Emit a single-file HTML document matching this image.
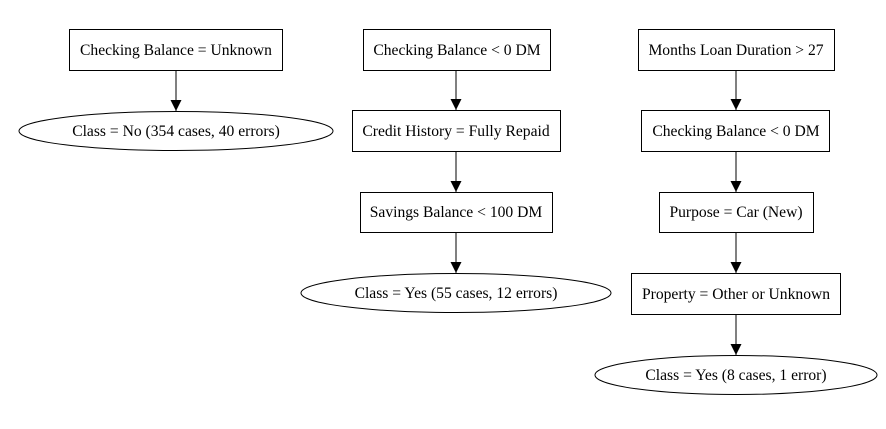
<!DOCTYPE html>
<html><head><style>body{margin:0;background:#fff} text{font-family:"Liberation Serif","Times New Roman",serif;font-size:15.6px}</style></head><body>
<svg width="886" height="424" xmlns="http://www.w3.org/2000/svg" text-anchor="middle">
<defs><marker id="a" markerWidth="11" markerHeight="12" refX="11" refY="5.5" orient="auto" markerUnits="userSpaceOnUse"><path d="M0,0 L11,5.5 L0,11 z" fill="#000"/></marker></defs>
<g fill="none" stroke="#000" stroke-width="1">
<rect x="69.5" y="29.5" width="213" height="41"/>
<ellipse cx="176" cy="131" rx="157" ry="19.5"/>
<rect x="363.5" y="29.5" width="187" height="41"/>
<rect x="352.5" y="110.5" width="208" height="41"/>
<rect x="360.5" y="192.5" width="192" height="40"/>
<ellipse cx="456" cy="293" rx="155" ry="19.5"/>
<rect x="638.5" y="29.5" width="196" height="41"/>
<rect x="641.5" y="110.5" width="188" height="41"/>
<rect x="659.5" y="192.5" width="154" height="40"/>
<rect x="631.5" y="273.5" width="209" height="41"/>
<ellipse cx="736" cy="375" rx="141" ry="19.5"/>
</g>
<g stroke="#000" marker-end="url(#a)">
<line x1="176" y1="71" x2="176" y2="111"/>
<line x1="456" y1="71" x2="456" y2="110"/>
<line x1="456" y1="152" x2="456" y2="192"/>
<line x1="456" y1="233" x2="456" y2="273"/>
<line x1="736" y1="71" x2="736" y2="110"/>
<line x1="736" y1="152" x2="736" y2="192"/>
<line x1="736" y1="233" x2="736" y2="273"/>
<line x1="736" y1="315" x2="736" y2="355"/>
</g>
<g fill="#000">
<text x="176" y="55">Checking Balance = Unknown</text>
<text x="176" y="136">Class = No (354 cases, 40 errors)</text>
<text x="457" y="55">Checking Balance &lt; 0 DM</text>
<text x="456" y="136">Credit History = Fully Repaid</text>
<text x="456" y="217">Savings Balance &lt; 100 DM</text>
<text x="456" y="298">Class = Yes (55 cases, 12 errors)</text>
<text x="736" y="55">Months Loan Duration &gt; 27</text>
<text x="736" y="136">Checking Balance &lt; 0 DM</text>
<text x="736" y="217">Purpose = Car (New)</text>
<text x="736" y="299">Property = Other or Unknown</text>
<text x="736" y="380">Class = Yes (8 cases, 1 error)</text>
</g>
</svg>
</body></html>
